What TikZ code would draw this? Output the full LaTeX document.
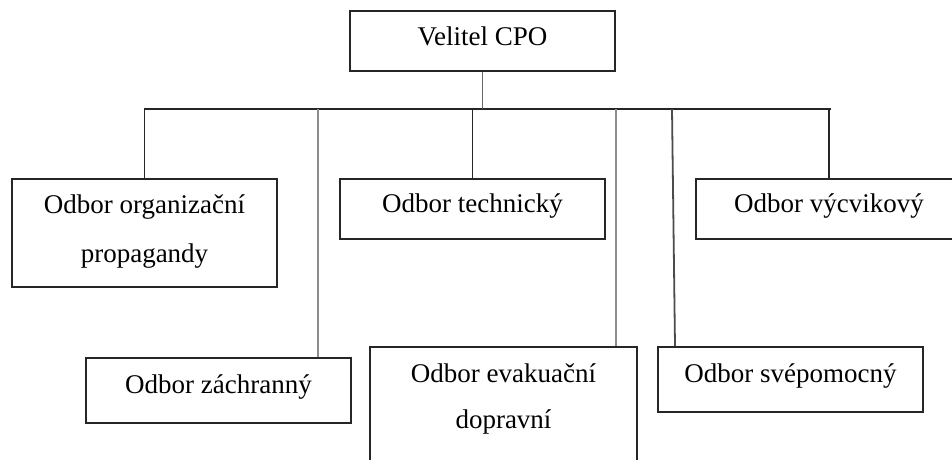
\documentclass[tikz,border=0pt]{standalone}
\usepackage{fontspec}
\setmainfont{Liberation Serif}
\begin{document}
\begin{tikzpicture}[x=1pt,y=-1pt,
  box/.style={draw=black!85, line width=2pt, rectangle, inner sep=0pt},
  txt/.style={anchor=base, font=\fontsize{27}{32}\selectfont, inner sep=0pt},
  conn/.style={draw=black!85, line width=1.8pt},
  gconn/.style={draw=black!45, line width=2.2pt}]
\useasboundingbox (0,0) rectangle (952,459);
\clip (0,0) rectangle (952,459);
\fill[white] (0,0) rectangle (952,459);
% boxes
\node[box, minimum width=265pt, minimum height=60pt] (top) at (482.5,41) {};
\node[box, minimum width=265pt, minimum height=108pt] (b1) at (144.5,233) {};
\node[box, minimum width=265pt, minimum height=60pt] (tech) at (472.5,209) {};
\node[box, minimum width=266pt, minimum height=60pt] (vyc) at (829,209) {};
\node[box, minimum width=265pt, minimum height=65pt] (zach) at (218.5,390.5) {};
\node[box, minimum width=267pt, minimum height=133pt] (evak) at (503.5,413.5) {};
\node[box, minimum width=265pt, minimum height=65pt] (svep) at (790.5,379.5) {};
% texts
\node[txt] (t0) at (482.5,45) {Velitel CPO};
\node[txt] (t1a) at (144.5,213) {Odbor organizační};
\node[txt] (t1b) at (144.5,262) {propagandy};
\node[txt] (t2) at (472.5,212) {Odbor technický};
\node[txt] (t3) at (829,212) {Odbor výcvikový};
\node[txt] (t4) at (218.5,393) {Odbor záchranný};
\node[txt] (t5a) at (503.5,382) {Odbor evakuační};
\node[txt] (t5b) at (503.5,428) {dopravní};
\node[txt] (t6) at (790.5,382) {Odbor svépomocný};
% connectors
\coordinate (busL) at (144,109);
\coordinate (busR) at (831,109);
\coordinate (k1) at (318,109);
\coordinate (k2) at (616,109);
\coordinate (k3) at (672,109);
\draw[conn] (busL) -- (busR);
\draw[conn, draw=black!60] (top.south) -- (top.south |- busL);
\draw[conn] (b1.north |- busL) -- (b1.north);
\draw[gconn] (k1) -- (k1 |- zach.north);
\draw[conn] (tech.north |- busL) -- (tech.north);
\draw[gconn] (k2) -- (k2 |- evak.north);
\draw[conn, draw=black!70] (k3) -- ([xshift=18pt]svep.north west);
\draw[conn] (vyc.north |- busL) -- (vyc.north);
\end{tikzpicture}
\end{document}
